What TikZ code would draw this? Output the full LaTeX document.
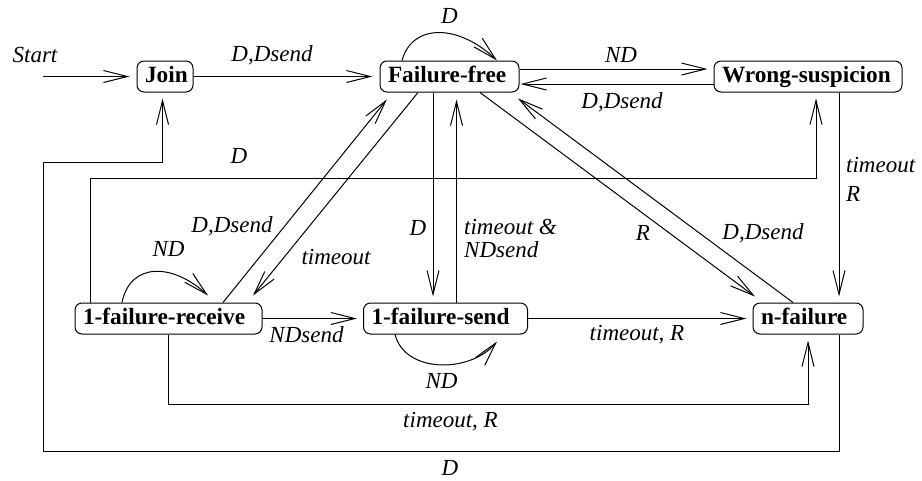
\documentclass[tikz,border=0pt]{standalone}
\usepackage{fontspec}
\setmainfont{Liberation Serif}
\usetikzlibrary{arrows.meta}
\begin{document}
\begin{tikzpicture}[x=1pt,y=-1pt,
  state/.style={draw, line width=1pt, rounded corners=7pt, minimum height=31pt,
    inner xsep=8pt, inner ysep=0pt, text height=17pt, text depth=5pt, align=left,
    font=\fontsize{23.3}{27}\selectfont\bfseries},
  lbl/.style={font=\fontsize{23}{23}\selectfont\itshape, inner sep=0pt},
  arr/.style={line width=1pt, -{Straight Barb[length=24pt,width=12pt]}},
  ln/.style={line width=1pt}]
\useasboundingbox (0,0) rectangle (922,480);

% states
\node[state, text width=40pt]  (join) at (165,76.5)    {\mbox{Join}};
\node[state, text width=123pt] (ff)   at (449.5,76.5)  {\mbox{Failure-free}};
\node[state, text width=172pt] (ws)   at (808,76.5)    {\mbox{Wrong-suspicion}};
\node[state, text width=171pt] (fr)   at (168.5,318.5) {\mbox{1-failure-receive}};
\node[state, text width=148pt] (fs)   at (445.5,318.5) {\mbox{1-failure-send}};
\node[state, text width=94pt]  (nf)   at (808,318.5)   {\mbox{n-failure}};

% start
\coordinate (start) at (43,76.5);
\draw[arr, shorten >=7pt] (start) -- (join.west);
\node[lbl] (lstart) at (35,54.5) {Start};

% join -> ff
\draw[arr, shorten >=7pt] (join.east) -- (ff.west);
\node[lbl] (l1) at (272,55) {D,Dsend};

% ff self loop
\draw[arr] ([xshift=-47.5pt]ff.north) .. controls +(10,-37) and +(-39,-37) .. ([xshift=47.5pt]ff.north);
\node[lbl] (l2) at (449.5,16) {D};

% ff <-> ws
\draw[arr, shorten >=6pt] ([yshift=7.5pt]ff.east) -- ([yshift=7.5pt]ws.west);
\node[lbl] (l3) at (621,54.5) {ND};
\draw[arr, shorten >=1pt] ([yshift=-7.5pt]ws.west) -- ([yshift=-7.5pt]ff.east);
\node[lbl] (l4) at (622,102) {D,Dsend};

% ws -> nf
\draw[arr, shorten >=6pt] (839,0 |- ws.south) -- (839,0 |- nf.north);
\node[lbl, anchor=west] (l5) at (846,165) {timeout};
\node[lbl, anchor=west] (l6) at (846,193.5) {R};

% fr -> ff
\draw[arr, shorten >=9pt] ([xshift=54.5pt]fr.north) -- ([xshift=-57pt]ff.south);
\node[lbl] (l7) at (232,226) {D,Dsend};

% ff -> fr
\draw[arr, shorten >=9pt] ([xshift=-31.5pt]ff.south) -- ([xshift=78.8pt]fr.north);
\node[lbl] (l8) at (336,257) {timeout};

% ff -> fs
\draw[arr, shorten >=6pt] (433,0 |- ff.south) -- (433,0 |- fs.north);
\node[lbl] (l9) at (418,227.5) {D};

% fs -> ff
\draw[arr, shorten >=7pt] (456.5,0 |- fs.north) -- (456.5,0 |- ff.south);
\node[lbl, anchor=west, align=left] (l10) at (464,238.5) {timeout \&\\NDsend};

% ff -> nf
\draw[arr, shorten >=10pt] ([xshift=30.5pt]ff.south) -- ([xshift=-45pt]nf.north);
\node[lbl] (l11) at (643,233) {R};

% nf -> ff
\draw[arr, shorten >=10pt] ([xshift=-15pt]nf.north) -- ([xshift=60.5pt]ff.south);
\node[lbl] (l12) at (763,233) {D,Dsend};

% fr -> fs
\draw[arr, shorten >=6pt] (fr.east) -- (fs.west);
\node[lbl] (l13) at (306.5,335) {NDsend};

% fs -> nf
\draw[arr, shorten >=6pt] (fs.east) -- (nf.west);
\node[lbl] (l14) at (637,335) {timeout, R};

% fr self loop
\draw[arr] ([xshift=-46.5pt]fr.north) .. controls +(8,-40) and +(-36,-33) .. ([xshift=39.5pt,yshift=7pt]fr.north);
\node[lbl] (l15) at (168.5,249) {ND};

% fs self loop
\draw[arr] ([xshift=-50.5pt]fs.south) .. controls +(10,39) and +(-27,32) .. ([xshift=51.5pt,yshift=-7pt]fs.south);
\node[lbl] (l16) at (441.5,381) {ND};

% fr -> nf (bottom)
\draw[arr, shorten >=6pt] (fr.south) -- ++(0,70) -| (nf.south);
\node[lbl] (l17) at (450.5,421.5) {timeout, R};

% nf -> join (outer)
\draw[arr, shorten >=6pt] (839,0 |- nf.south) |- (43,451) |- (162.5,162.5) -- (162.5,0 |- join.south);
\node[lbl] (l18) at (450,468) {D};

% fr -> ws
\draw[arr, shorten >=6pt] (90,0 |- fr.north) |- (816,178) -- (816,0 |- ws.south);
\node[lbl] (l19) at (239,155.5) {D};
\end{tikzpicture}
\end{document}
